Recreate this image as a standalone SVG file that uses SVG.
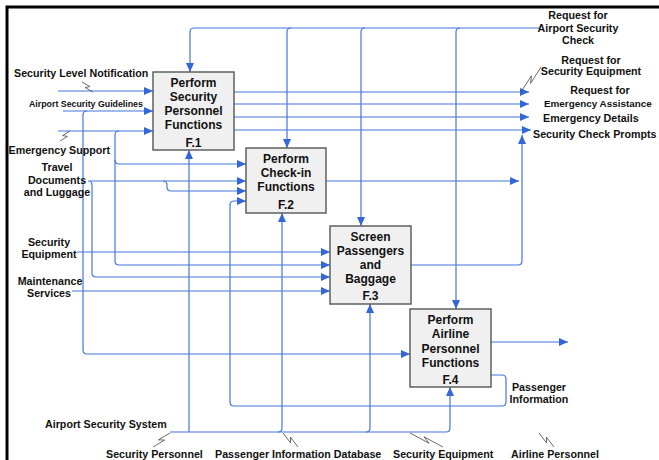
<svg xmlns="http://www.w3.org/2000/svg" width="659" height="460" viewBox="0 0 659 460">
  <style>
    .box { fill: #f0f0f0; stroke: #555; stroke-width: 1.4; }
    .bt { font-family: "Liberation Sans", Arial, sans-serif; font-size: 12px; font-weight: bold; fill: #111; text-anchor: middle; }
    .lb { font-family: "Liberation Sans", Arial, sans-serif; font-size: 10.7px; font-weight: bold; fill: #111; }
    .sm { font-size: 8.8px; }
    .mid { text-anchor: middle; }
    .c { fill: none; stroke: #4477dd; stroke-width: 1.2; }
    .arr { marker-end: url(#ah); }
    .sq { fill: none; stroke: #444; stroke-width: 0.8; }
  </style>
  <defs>
    <marker id="ah" markerUnits="userSpaceOnUse" markerWidth="9" markerHeight="8" refX="9" refY="4" orient="auto">
      <path d="M0,0 L9,4 L0,8 z" fill="#3366d6"/>
    </marker>
  </defs>
  <rect width="659" height="460" fill="#fff"/>
  <!-- frame -->
  <path d="M7 462 V7 H661" fill="none" stroke="#000" stroke-width="3"/>

  <g id="connectors">
    <!-- control from the top -->
    <path class="c arr" d="M540 28 H194 Q190 28 190 32 V72"/>
    <path class="c arr" d="M291 28 Q287 28 287 32 V148"/>
    <path class="c arr" d="M365 28 Q361 28 361 32 V226"/>
    <path class="c arr" d="M460 28 Q456 28 456 32 V309"/>
    <!-- inputs to F.1 -->
    <path class="c arr" d="M58 91 H153"/>
    <path class="c arr" d="M63 111 H153"/>
    <path class="c arr" d="M87 111 Q83 111 83 115 V350 Q83 354 87 354 H410"/>
    <path class="c arr" d="M58 131 H153"/>
    <path class="c arr" d="M119 131 Q115 131 115 135 V261 Q115 265 119 265 H330"/>
    <path class="c arr" d="M115 160 Q115 164 119 164 H246"/>
    <!-- outputs of F.1 -->
    <path class="c arr" d="M234 92 H529"/>
    <path class="c arr" d="M234 104 H529"/>
    <path class="c arr" d="M234 117 H529"/>
    <path class="c arr" d="M234 130 H531"/>
    <!-- inputs to F.2 -->
    <path class="c arr" d="M90 181 H246"/>
    <path class="c arr" d="M163 181 Q167 181 167 185 V187 Q167 191 171 191 H246"/>
    <path class="c arr" d="M88 181 Q92 181 92 185 V273 Q92 277 96 277 H330"/>
    <path class="c arr" d="M491 375 H502 Q506 375 506 379 V402 Q506 406 502 406 H234 Q230 406 230 402 V205 Q230 201 234 201 H246"/>
    <!-- output of F.2 -->
    <path class="c arr" d="M326 181 H519"/>
    <!-- inputs to F.3 -->
    <path class="c arr" d="M77 252 H330"/>
    <path class="c arr" d="M72 291 H330"/>
    <!-- output of F.3 -->
    <path class="c arr" d="M411 265 H518 Q522 265 522 261 V135"/>
    <!-- output of F.4 -->
    <path class="c arr" d="M491 342 H568"/>
    <!-- mechanisms -->
    <path class="c arr" d="M170 432 H446 Q450 432 450 428 V387"/>
    <path class="c arr" d="M189 432 V150"/>
    <path class="c arr" d="M278 432 Q282 432 282 428 V213"/>
    <path class="c arr" d="M366 432 Q370 432 370 428 V304"/>
  </g>

  <g id="squiggles">
    <path class="sq" d="M82 82 L89.9 86.5 L85.1 87.5 L93 92"/>
    <path class="sq" d="M60 141 L67.4 136.4 L62.6 135.6 L70 131"/>
    <path class="sq" d="M541 67 L530.6 83.3 L531.4 75.8 L521 92"/>
    <path class="sq" d="M153 447 L164.5 440.1 L158.5 439.8 L170 433"/>
    <path class="sq" d="M298 447 L290.4 437.1 L290.6 442.9 L283 433"/>
    <path class="sq" d="M443 447 L424 436.8 L429 443.2 L410 433"/>
    <path class="sq" d="M554 447 L546.4 437.1 L546.6 442.9 L539 433"/>
  </g>

  <g id="f1">
    <rect class="box" x="153" y="72" width="81" height="78"/>
    <text class="bt" x="193.5" y="87">Perform</text>
    <text class="bt" x="193.5" y="101">Security</text>
    <text class="bt" x="193.5" y="115">Personnel</text>
    <text class="bt" x="193.5" y="129">Functions</text>
    <text class="bt" x="193.5" y="147">F.1</text>
  </g>
  <g id="f2">
    <rect class="box" x="246" y="148" width="80" height="65"/>
    <text class="bt" x="286" y="163">Perform</text>
    <text class="bt" x="286" y="177">Check-in</text>
    <text class="bt" x="286" y="191">Functions</text>
    <text class="bt" x="286" y="209">F.2</text>
  </g>
  <g id="f3">
    <rect class="box" x="330" y="226" width="81" height="78"/>
    <text class="bt" x="370.5" y="241">Screen</text>
    <text class="bt" x="370.5" y="255">Passengers</text>
    <text class="bt" x="370.5" y="269">and</text>
    <text class="bt" x="370.5" y="283">Baggage</text>
    <text class="bt" x="370.5" y="300">F.3</text>
  </g>
  <g id="f4">
    <rect class="box" x="410" y="309" width="81" height="78"/>
    <text class="bt" x="450.5" y="324">Perform</text>
    <text class="bt" x="450.5" y="338">Airline</text>
    <text class="bt" x="450.5" y="353">Personnel</text>
    <text class="bt" x="450.5" y="367">Functions</text>
    <text class="bt" x="450.5" y="384">F.4</text>
  </g>

  <g id="labels">
    <text class="lb" x="14" y="77">Security Level Notification</text>
    <text class="lb sm" x="29" y="107">Airport Security Guidelines</text>
    <text class="lb" x="8.5" y="154">Emergency Support</text>
    <text class="lb mid" x="57" y="171">Travel</text>
    <text class="lb mid" x="57" y="184">Documents</text>
    <text class="lb mid" x="57" y="196">and Luggage</text>
    <text class="lb mid" x="49" y="246">Security</text>
    <text class="lb mid" x="49" y="258">Equipment</text>
    <text class="lb mid" x="50" y="285">Maintenance</text>
    <text class="lb mid" x="49" y="297">Services</text>

    <text class="lb mid" x="578" y="19">Request for</text>
    <text class="lb mid" x="578" y="32">Airport Security</text>
    <text class="lb mid" x="578" y="44">Check</text>
    <text class="lb mid" x="591" y="64">Request for</text>
    <text class="lb mid" x="591" y="75">Security Equipment</text>
    <text class="lb mid" x="600" y="94">Request for</text>
    <text class="lb" x="544" y="107" style="font-size:9.9px">Emergency Assistance</text>
    <text class="lb" x="543" y="122">Emergency Details</text>
    <text class="lb" x="533" y="138">Security Check Prompts</text>

    <text class="lb mid" x="539" y="391">Passenger</text>
    <text class="lb mid" x="539" y="403">Information</text>

    <text class="lb" x="45" y="428">Airport Security System</text>
    <text class="lb" x="106" y="458">Security Personnel</text>
    <text class="lb" x="215" y="458">Passenger Information Database</text>
    <text class="lb" x="393" y="458">Security Equipment</text>
    <text class="lb" x="511" y="458">Airline Personnel</text>
  </g>
</svg>
